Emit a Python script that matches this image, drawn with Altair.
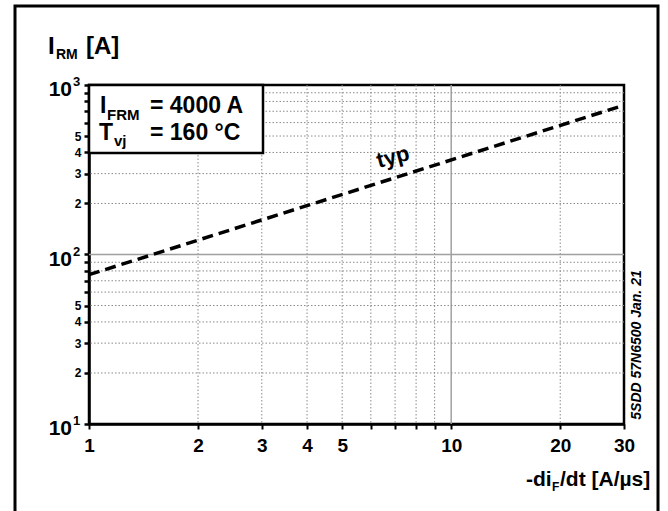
import altair as alt
import pandas as pd

# ---- data ----
di_dt = [1, 30]          # -diF/dt [A/us]
i_rm = [76, 760]         # IRM [A] (typ)

x_minor_grid = [2, 3, 4, 5, 6, 7, 8, 9, 20]
x_major_grid = [10]
y_minor_grid = [20, 30, 40, 50, 60, 70, 80, 90, 200, 300, 400, 500, 600, 700, 800, 900]
y_major_grid = [100]

x_tick_values = [1, 2, 3, 4, 5, 6, 7, 8, 9, 10, 20, 30]
x_label_values = [1, 2, 3, 4, 5, 10, 20, 30]
y_tick_values = [10, 20, 30, 40, 50, 60, 70, 80, 90, 100, 200, 300, 400, 500, 600, 700, 800, 900, 1000]
y_small_labels = {20: "2", 30: "3", 40: "4", 50: "5", 200: "2", 300: "3", 400: "4", 500: "5"}
y_decades = [10, 100, 1000]
y_decade_exp = ["1", "2", "3"]

FONT = "Liberation Sans"
W, H = 535, 339
L, T = 89, 85

xs = alt.Scale(type="log", domain=[1, 30], nice=False)
ys = alt.Scale(type="log", domain=[10, 1000], nice=False)

x_label_expr = " || ".join(f"datum.value == {v}" for v in x_label_values)
x_label_expr = f"({x_label_expr}) ? format(datum.value, 'd') : ''"
y_expr = "''"
for v, s in reversed(list(y_small_labels.items())):
    y_expr = f"datum.value == {v} ? '{s}' : ({y_expr})"

line_df = pd.DataFrame({"x": di_dt, "y": i_rm})
dec_df = pd.DataFrame({"y": y_decades, "e": y_decade_exp})

x_axis = alt.Axis(values=x_tick_values, labelExpr=x_label_expr, title=None, grid=False,
                  labelFont=FONT, labelFontWeight="bold", labelFontSize=19, labelColor="black",
                  labelPadding=7, tickColor="black", tickWidth=2, tickSize=5,
                  domainColor="black", domainWidth=2.5, labelFlush=False, labelOverlap=False)
y_axis = alt.Axis(values=y_tick_values, labelExpr=y_expr, title=None, grid=False,
                  labelFont=FONT, labelFontWeight="bold", labelFontSize=12,
                  labelColor="black", labelPadding=3, tickColor="black", tickWidth=2.5, tickSize=5,
                  domainColor="black", domainWidth=2.5, labelFlush=False, labelOverlap=False)

xminor = alt.Chart(pd.DataFrame({"x": x_minor_grid})).mark_rule(
    color="#8a8a8a", strokeWidth=1, strokeDash=[1.5, 2]).encode(
    x=alt.X("x:Q", scale=xs, axis=x_axis))
xmajor = alt.Chart(pd.DataFrame({"x": x_major_grid})).mark_rule(
    color="#a0a0a0", strokeWidth=1.5).encode(x=alt.X("x:Q", scale=xs))
yminor = alt.Chart(pd.DataFrame({"y": y_minor_grid})).mark_rule(
    color="#8a8a8a", strokeWidth=1, strokeDash=[1.5, 2]).encode(
    y=alt.Y("y:Q", scale=ys, axis=y_axis))
ymajor = alt.Chart(pd.DataFrame({"y": y_major_grid})).mark_rule(
    color="#a0a0a0", strokeWidth=1.5).encode(y=alt.Y("y:Q", scale=ys))

curve = alt.Chart(line_df).mark_line(color="black", strokeWidth=3.5, strokeDash=[11, 6]).encode(
    x=alt.X("x:Q", scale=xs), y=alt.Y("y:Q", scale=ys))

# decade labels 10^n with real superscripts
dec_base = alt.Chart(dec_df).mark_text(
    text="10", font=FONT, fontWeight="bold", fontSize=21, color="black",
    align="right", baseline="alphabetic", dy=11).encode(
    x=alt.value(72 - L), y=alt.Y("y:Q", scale=ys))
dec_exp = alt.Chart(dec_df).mark_text(
    font=FONT, fontWeight="bold", fontSize=13, color="black",
    align="left", baseline="alphabetic", dy=1).encode(
    x=alt.value(73 - L), y=alt.Y("y:Q", scale=ys), text="e:N")

one = pd.DataFrame({"a": [0]})


def txt(s, px, py, size, align="left", angle=0, style="normal", baseline="alphabetic"):
    kw = dict(text=s, font=FONT, fontWeight="bold", fontSize=size, color="black",
              align=align, baseline=baseline, fontStyle=style)
    if angle:
        kw["angle"] = angle
    return alt.Chart(one).mark_text(**kw).encode(x=alt.value(px - L), y=alt.value(py - T))


box = alt.Chart(one).mark_rect(fill="white", stroke="black", strokeWidth=2.5).encode(
    x=alt.value(0), x2=alt.value(263 - L), y=alt.value(0), y2=alt.value(153 - T))

border = alt.Chart(one).mark_rect(filled=False, stroke="black", strokeWidth=3).encode(
    x=alt.value(15 - L), x2=alt.value(658 - L), y=alt.value(6 - T), y2=alt.value(530 - T))

annotations = [
    # y title I_RM [A]
    txt("I", 48, 54, 24), txt("RM", 56, 59, 14), txt("[A]", 86, 54, 24),
    # x title -di_F/dt [A/µs]
    txt("-di", 526, 486, 21), txt("F", 552, 491, 12), txt("/dt [A/µs]", 560, 486, 21),
    # legend box text
    txt("I", 100, 113, 23), txt("FRM", 107, 120, 15), txt("= 4000 A", 150, 113, 23),
    txt("T", 99, 140, 23), txt("vj", 114, 146, 15), txt("= 160 °C", 150, 140, 23),
    # curve label
    txt("typ", 393, 157, 22, align="center", angle=345, baseline="middle"),
    # document code
    txt("5SDD 57N6500 Jan. 21", 637, 345, 14, align="center", angle=270,
        style="italic", baseline="middle"),
]

chart = alt.layer(xminor, xmajor, yminor, ymajor, box, curve, border,
                  dec_base, dec_exp, *annotations).properties(
    width=W, height=H,
    autosize=alt.AutoSizeParams(type="none"),
    padding={"left": L, "top": T, "right": 668 - L - W, "bottom": 511 - T - H},
    background="white",
).configure_view(stroke="black", strokeWidth=2.5)

chart.save("out.html", embed_options={"renderer": "svg", "actions": False})
